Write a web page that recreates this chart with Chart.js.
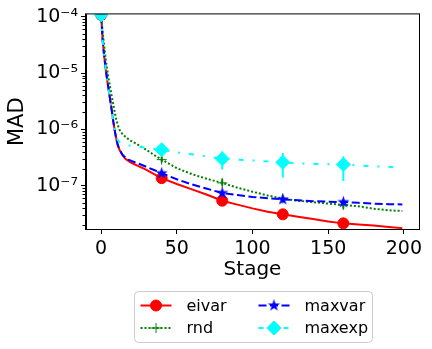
<!DOCTYPE html>
<html>
<head>
<meta charset="utf-8">
<script src="https://cdn.jsdelivr.net/npm/chart.js@4.4.1/dist/chart.umd.min.js"></script>
<style>
  html, body { margin: 0; padding: 0; background: #fff; }
</style>
</head>
<body>
<canvas id="chart" width="432" height="349"></canvas>
<script>
// stages where each method was evaluated
const stages = [0, 1, 2, 3, 4, 5, 6, 7, 8, 9, 10, 11, 12, 13, 14, 16, 18, 20, 25, 30, 35, 40,
  50, 60, 70, 80, 90, 100, 110, 120, 130, 140, 150, 160, 170, 180, 190, 199];

const eivar = [1.08e-4, 3.8e-5, 2.0e-5, 1.2e-5, 7.5e-6, 5.0e-6, 3.3e-6, 2.2e-6, 1.4e-6, 9.5e-7, 6.8e-7, 5.2e-7,
  4.4e-7, 3.9e-7, 3.5e-7, 3.0e-7, 2.75e-7, 2.55e-7, 2.2e-7, 1.9e-7, 1.6e-7, 1.36e-7,
  1.07e-7, 8.6e-8, 6.9e-8, 5.4e-8, 4.6e-8, 3.95e-8, 3.45e-8, 3.1e-8, 2.8e-8, 2.55e-8, 2.3e-8, 2.14e-8,
  2.05e-8, 1.97e-8, 1.85e-8, 1.76e-8];

const rnd = [1.08e-4, 5.5e-5, 3.0e-5, 1.8e-5, 1.15e-5, 7.8e-6, 5.5e-6, 3.9e-6, 2.8e-6, 2.0e-6, 1.5e-6, 1.2e-6,
  1.0e-6, 9.0e-7, 8.3e-7, 7.4e-7, 6.7e-7, 6.2e-7, 5.2e-7, 4.3e-7, 3.5e-7, 2.9e-7,
  2.05e-7, 1.6e-7, 1.32e-7, 1.12e-7, 9.2e-8, 7.8e-8, 6.7e-8, 5.9e-8, 5.4e-8, 5.1e-8, 4.8e-8, 4.55e-8,
  4.3e-8, 3.9e-8, 3.65e-8, 3.55e-8];

const maxvar = [1.08e-4, 3.8e-5, 2.0e-5, 1.2e-5, 7.5e-6, 5.0e-6, 3.3e-6, 2.2e-6, 1.4e-6, 9.5e-7, 6.8e-7, 5.3e-7,
  4.5e-7, 4.0e-7, 3.6e-7, 3.15e-7, 2.9e-7, 2.75e-7, 2.45e-7, 2.15e-7, 1.9e-7, 1.66e-7,
  1.3e-7, 1.05e-7, 8.8e-8, 7.4e-8, 6.8e-8, 6.3e-8, 6.0e-8, 5.7e-8, 5.5e-8, 5.3e-8, 5.2e-8, 5.1e-8,
  4.95e-8, 4.8e-8, 4.7e-8, 4.65e-8];

const maxexp = [1.08e-4, 3.8e-5, 2.0e-5, 1.2e-5, 7.5e-6, 5.0e-6, 3.3e-6, 2.2e-6, 1.4e-6, 1.0e-6, 7.5e-7, 6.5e-7,
  6.0e-7, 5.7e-7, 5.5e-7, 5.3e-7, 5.2e-7, 5.1e-7, 4.9e-7, 4.7e-7, 4.5e-7, 4.35e-7,
  3.9e-7, 3.6e-7, 3.3e-7, 3.0e-7, 2.9e-7, 2.8e-7, 2.7e-7, 2.6e-7, 2.5e-7, 2.45e-7, 2.4e-7, 2.38e-7,
  2.3e-7, 2.2e-7, 2.15e-7, 2.1e-7];

// markers and error bars only every 40 stages
const markStages = [0, 40, 80, 120, 160];
const errStages = [40, 80, 120, 160];
const rndLow = [2.6e-7, 1.0e-7, 5.3e-8, 3.9e-8];
const rndHigh = [3.3e-7, 1.3e-7, 6.6e-8, 5.4e-8];
const maxexpLow = [3.9e-7, 1.94e-7, 1.39e-7, 1.21e-7];
const maxexpHigh = [4.8e-7, 4.06e-7, 3.8e-7, 3.32e-7];

const yMajor = [1e-7, 1e-6, 1e-5, 1e-4];
const yMajorLabels = ['10⁻⁷', '10⁻⁶', '10⁻⁵', '10⁻⁴'];
const xTicks = [0, 50, 100, 150, 200];

const FONT = 'DejaVu Sans';

// filled five point star like matplotlib's '*'
function starImage(color, r) {
  const c = document.createElement('canvas');
  const s = Math.ceil(r * 2 + 2);
  c.width = s; c.height = s;
  const g = c.getContext('2d');
  g.beginPath();
  for (let i = 0; i < 10; i++) {
    const rr = i % 2 === 0 ? r : r * 0.382;
    const a = -Math.PI / 2 + i * Math.PI / 5;
    g.lineTo(s / 2 + rr * Math.cos(a), s / 2 + rr * Math.sin(a));
  }
  g.closePath();
  g.fillStyle = color;
  g.fill();
  return c;
}

const toPoints = arr => stages.map((s, i) => ({ x: s, y: arr[i] }));
const markRadius = r => ctx => markStages.includes(stages[ctx.dataIndex]) ? r : 0;

const datasets = [
  { label: 'eivar', data: toPoints(eivar), borderColor: '#ff0000', backgroundColor: '#ff0000',
    borderDash: [], pointStyle: 'circle', mr: 5.5, pointBorderWidth: 1, order: 4 },
  { label: 'rnd', data: toPoints(rnd), borderColor: '#008000', backgroundColor: '#008000',
    borderDash: [2, 2], pointStyle: 'cross', mr: 5, pointBorderWidth: 1, order: 3 },
  { label: 'maxvar', data: toPoints(maxvar), borderColor: '#0000ff', backgroundColor: '#0000ff',
    borderDash: [8, 3.5], pointStyle: starImage('#0000ff', 6.5), mr: 6.5, pointBorderWidth: 0, order: 2 },
  { label: 'maxexp', data: toPoints(maxexp), borderColor: '#00ffff', backgroundColor: '#00ffff',
    borderDash: [5, 9, 2, 9], pointStyle: 'rectRot', mr: 7, pointBorderWidth: 1, order: 1 }
];
datasets.forEach(d => {
  d.borderWidth = 2;
  d.tension = 0;
  d.pointRadius = markRadius(d.mr);
  d.pointHoverRadius = markRadius(d.mr);
  d.pointBackgroundColor = d.borderColor;
  d.pointBorderColor = d.borderColor;
});

const errorSets = [
  { color: '#008000', low: rndLow, high: rndHigh },
  { color: '#00ffff', low: maxexpLow, high: maxexpHigh }
];
const yMinor = [];
[-8, -7, -6, -5].forEach(e => {
  for (let k = 2; k <= 9; k++) yMinor.push(k * Math.pow(10, e));
});

const extras = {
  id: 'extras',
  beforeDatasetsDraw(chart) {
    const { ctx, scales: { x, y } } = chart;
    ctx.save();
    ctx.lineWidth = 2;
    errorSets.forEach(es => {
      ctx.strokeStyle = es.color;
      errStages.forEach((s, i) => {
        const px = x.getPixelForValue(s);
        ctx.beginPath();
        ctx.moveTo(px, y.getPixelForValue(es.low[i]));
        ctx.lineTo(px, y.getPixelForValue(es.high[i]));
        ctx.stroke();
      });
    });
    ctx.restore();
  },
  afterDraw(chart) {
    const { ctx, chartArea: a, scales: { y } } = chart;
    ctx.save();
    // frame
    ctx.strokeStyle = '#000';
    ctx.lineWidth = 1;
    ctx.strokeRect(a.left - 0.5, a.top - 0.5, a.right - a.left + 1, a.bottom - a.top + 1);
    // minor log ticks
    ctx.beginPath();
    yMinor.forEach(v => {
      const py = Math.round(y.getPixelForValue(v)) + 0.5;
      if (py < a.top || py > a.bottom) return;
      ctx.moveTo(a.left - 3.5, py);
      ctx.lineTo(a.left, py);
    });
    ctx.stroke();

    // legend, two columns: eivar, rnd | maxvar, maxexp
    const w = 238, h = 51;
    const cx = (a.left + a.right) / 2;
    const left = Math.round(cx - w / 2) + 0.5, top = 291.5;
    ctx.beginPath();
    ctx.roundRect(left, top, w, h, 4);
    ctx.fillStyle = '#fff';
    ctx.fill();
    ctx.strokeStyle = '#cccccc';
    ctx.stroke();
    ctx.font = '16px "' + FONT + '"';
    ctx.textBaseline = 'middle';
    chart.data.datasets.forEach((d, k) => {
      const col = Math.floor(k / 2), row = k % 2;
      const x0 = left + 6 + col * 118;
      const yy = top + 14 + row * 22.5;
      ctx.strokeStyle = d.borderColor;
      ctx.lineWidth = 2;
      ctx.setLineDash(d.borderDash);
      ctx.beginPath();
      ctx.moveTo(x0, yy);
      ctx.lineTo(x0 + 31, yy);
      ctx.stroke();
      ctx.setLineDash([]);
      ctx.fillStyle = d.borderColor;
      ctx.lineWidth = d.pointBorderWidth || 1;
      Chart.helpers.drawPoint(ctx, { pointStyle: d.pointStyle, radius: d.mr,
        borderWidth: d.pointBorderWidth, rotation: 0 }, x0 + 15.5, yy);
      ctx.fillStyle = '#000';
      ctx.fillText(d.label, x0 + 46, yy + 1);
    });
    ctx.restore();
  }
};

new Chart(document.getElementById('chart'), {
  type: 'line',
  data: { datasets },
  plugins: [extras],
  options: {
    responsive: false,
    animation: false,
    events: [],
    layout: { padding: { top: 14, right: 13, bottom: 67, left: 0 } },
    plugins: { legend: { display: false }, tooltip: { enabled: false } },
    scales: {
      x: {
        type: 'linear',
        min: -10,
        max: 210,
        afterBuildTicks: s => { s.ticks = xTicks.map(v => ({ value: v })); },
        afterFit: s => { s.height = 53; },
        grid: { drawOnChartArea: false, drawTicks: true, tickLength: 5, tickColor: '#000', tickWidth: 1 },
        border: { display: true, color: '#000', width: 1 },
        ticks: { color: '#000', padding: 4, maxRotation: 0, font: { family: FONT, size: 19 } },
        title: { display: true, text: 'Stage', color: '#000', padding: { top: 0, bottom: 0 },
          font: { family: FONT, size: 20 } }
      },
      y: {
        type: 'logarithmic',
        min: 1.7e-8,
        max: 1.1e-4,
        afterBuildTicks: s => { s.ticks = yMajor.map(v => ({ value: v })); },
        afterFit: s => { s.width = 86; },
        grid: { drawOnChartArea: false, drawTicks: true, tickLength: 5, tickColor: '#000', tickWidth: 1 },
        border: { display: true, color: '#000', width: 1 },
        ticks: { color: '#000', padding: 3, font: { family: FONT, size: 19 },
          callback: v => yMajorLabels[yMajor.indexOf(v)] ?? '' },
        title: { display: true, text: 'MAD', color: '#000', padding: { top: 5, bottom: 0 },
          font: { family: FONT, size: 21 } }
      }
    }
  }
});
</script>
</body>
</html>
